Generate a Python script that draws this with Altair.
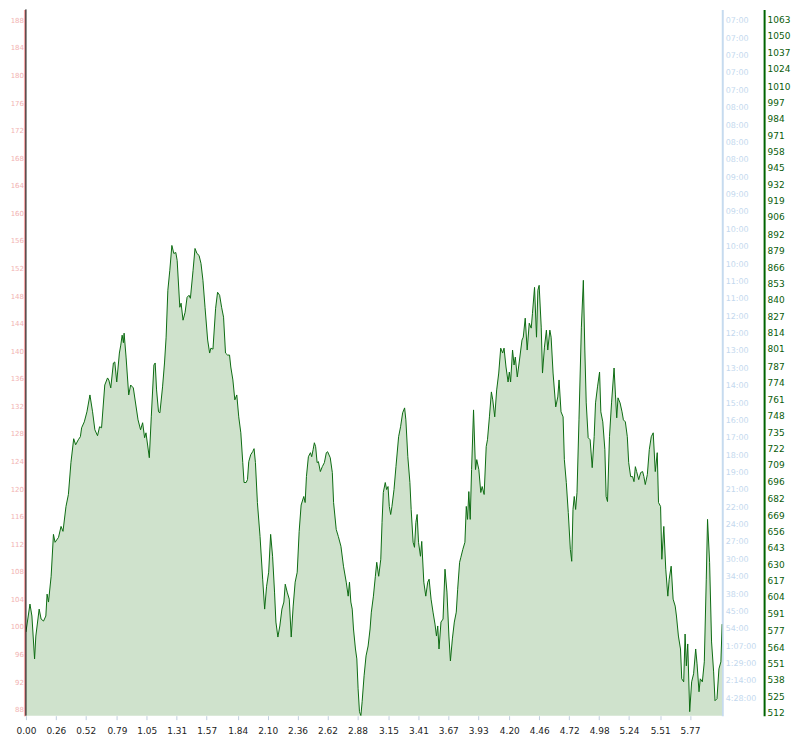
import altair as alt
import pandas as pd

# ---- data ----
distance_km = [
    0.000, 0.035, 0.052, 0.075, 0.086, 0.115, 0.132, 0.153, 0.173, 0.184, 0.196, 0.219, 0.239, 0.253,
    0.283, 0.305, 0.322, 0.348, 0.369, 0.391, 0.415, 0.432, 0.455, 0.473, 0.484, 0.507, 0.530, 0.556,
    0.579, 0.599, 0.622, 0.640, 0.657, 0.685, 0.709, 0.720, 0.737, 0.760, 0.772, 0.789, 0.812, 0.824,
    0.836, 0.847, 0.853, 0.870, 0.893, 0.910, 0.933, 0.974, 0.996, 1.014, 1.031, 1.043, 1.072, 1.089,
    1.112, 1.123, 1.135, 1.152, 1.164, 1.187, 1.204, 1.218, 1.233, 1.250, 1.268, 1.285, 1.302, 1.314,
    1.337, 1.348, 1.365, 1.383, 1.400, 1.417, 1.429, 1.452, 1.469, 1.486, 1.504, 1.521, 1.538, 1.556,
    1.579, 1.596, 1.607, 1.625, 1.648, 1.665, 1.683, 1.700, 1.717, 1.734, 1.752, 1.769, 1.780, 1.798,
    1.815, 1.832, 1.849, 1.867, 1.884, 1.895, 1.913, 1.925, 1.936, 1.953, 1.970, 1.982, 1.994, 2.011,
    2.034, 2.057, 2.074, 2.091, 2.109, 2.126, 2.143, 2.160, 2.172, 2.189, 2.206, 2.224, 2.241, 2.253,
    2.270, 2.288, 2.305, 2.322, 2.339, 2.357, 2.374, 2.391, 2.414, 2.426, 2.437, 2.454, 2.472, 2.483,
    2.495, 2.506, 2.517, 2.530, 2.541, 2.558, 2.575, 2.593, 2.610, 2.621, 2.644, 2.662, 2.673, 2.696,
    2.714, 2.737, 2.759, 2.783, 2.800, 2.811, 2.823, 2.835, 2.846, 2.863, 2.875, 2.886, 2.898, 2.910,
    2.921, 2.938, 2.955, 2.973, 2.990, 3.001, 3.019, 3.036, 3.048, 3.065, 3.083, 3.094, 3.105, 3.122,
    3.134, 3.146, 3.157, 3.169, 3.180, 3.198, 3.215, 3.238, 3.255, 3.273, 3.290, 3.301, 3.318, 3.336,
    3.347, 3.364, 3.376, 3.388, 3.399, 3.411, 3.428, 3.439, 3.457, 3.474, 3.491, 3.503, 3.520, 3.537,
    3.554, 3.567, 3.578, 3.589, 3.606, 3.624, 3.641, 3.658, 3.675, 3.688, 3.705, 3.722, 3.739, 3.751,
    3.768, 3.779, 3.796, 3.814, 3.826, 3.837, 3.848, 3.860, 3.872, 3.889, 3.906, 3.917, 3.935, 3.952,
    3.964, 3.981, 3.999, 4.010, 4.027, 4.044, 4.056, 4.073, 4.090, 4.108, 4.125, 4.142, 4.154, 4.171,
    4.189, 4.200, 4.211, 4.228, 4.241, 4.252, 4.269, 4.286, 4.310, 4.321, 4.338, 4.355, 4.373, 4.390,
    4.401, 4.419, 4.436, 4.448, 4.459, 4.477, 4.488, 4.505, 4.522, 4.534, 4.552, 4.563, 4.580, 4.603,
    4.621, 4.632, 4.649, 4.667, 4.678, 4.695, 4.712, 4.730, 4.742, 4.753, 4.764, 4.776, 4.788, 4.805,
    4.826, 4.843, 4.856, 4.868, 4.885, 4.902, 4.920, 4.937, 4.949, 4.966, 4.984, 4.995, 5.012, 5.030,
    5.041, 5.053, 5.070, 5.088, 5.110, 5.122, 5.133, 5.144, 5.162, 5.179, 5.191, 5.208, 5.225, 5.237,
    5.254, 5.271, 5.283, 5.295, 5.306, 5.324, 5.341, 5.358, 5.369, 5.381, 5.399, 5.416, 5.433, 5.450,
    5.468, 5.485, 5.496, 5.514, 5.525, 5.542, 5.559, 5.577, 5.589, 5.606, 5.623, 5.641, 5.652, 5.669,
    5.687, 5.698, 5.715, 5.727, 5.738, 5.750, 5.767, 5.784, 5.801, 5.819, 5.831, 5.848, 5.859, 5.877,
    5.894, 5.911, 5.922, 5.940, 5.957, 5.975, 5.987, 6.004, 6.021, 6.038, 6.049,
]
elevation_m = [
    576.1, 598.3, 588.8, 554.7, 572.9, 594.3, 586.4, 584.8, 588.8, 606.2, 599.9, 620.4, 653.7, 647.4,
    651.3, 660.0, 656.1, 675.9, 685.4, 710.7, 729.7, 724.9, 728.9, 731.3, 738.4, 743.1, 751.1, 764.5,
    751.1, 736.8, 732.1, 739.2, 738.4, 772.4, 778.0, 776.4, 770.1, 789.9, 790.7, 774.8, 797.8, 804.1,
    812.0, 806.0, 813.6, 794.6, 764.5, 772.4, 770.1, 744.7, 736.8, 742.4, 730.5, 734.4, 714.6, 747.1,
    788.3, 789.9, 768.5, 751.1, 750.3, 770.9, 789.9, 810.4, 847.7, 863.5, 883.3, 876.9, 877.7, 871.4,
    834.2, 837.4, 823.9, 830.2, 842.1, 843.7, 841.3, 863.5, 880.9, 876.9, 875.4, 869.0, 855.6, 834.2,
    808.1, 797.8, 801.7, 800.9, 833.4, 846.1, 843.7, 834.2, 826.3, 797.8, 796.2, 796.2, 786.7, 776.4,
    760.6, 764.5, 747.1, 734.4, 710.7, 694.9, 694.9, 697.2, 711.5, 717.0, 719.4, 721.8, 710.7, 679.0,
    652.1, 618.1, 594.3, 612.5, 623.6, 653.7, 636.3, 607.8, 584.0, 572.1, 580.9, 594.3, 599.9, 614.1,
    607.8, 602.2, 572.1, 596.7, 615.7, 623.6, 656.1, 677.0, 683.8, 679.0, 699.6, 715.4, 718.6, 715.4,
    721.0, 726.5, 723.4, 710.7, 711.5, 703.6, 707.5, 710.7, 718.6, 719.4, 714.6, 702.8, 679.0, 657.6,
    652.1, 644.2, 628.4, 615.7, 604.6, 615.7, 599.9, 594.3, 578.5, 562.6, 554.7, 531.0, 512.8, 509.6,
    520.7, 541.3, 557.1, 565.0, 578.5, 591.9, 604.6, 620.4, 631.5, 620.4, 633.9, 663.2, 687.0, 694.9,
    689.3, 691.7, 675.9, 669.5, 675.9, 689.3, 707.5, 731.3, 739.2, 750.3, 754.2, 744.7, 715.4, 694.9,
    673.5, 647.4, 643.4, 663.2, 669.5, 647.4, 636.3, 648.1, 615.7, 604.6, 615.7, 618.1, 602.2, 591.9,
    582.4, 572.9, 580.9, 562.6, 584.0, 586.4, 626.0, 607.8, 572.9, 553.1, 570.6, 584.0, 591.9, 610.1,
    631.5, 635.5, 641.8, 647.4, 675.9, 665.6, 687.7, 665.6, 705.2, 752.6, 705.2, 713.1, 705.2, 687.0,
    691.7, 685.4, 723.4, 728.9, 747.1, 766.9, 760.6, 747.1, 768.5, 781.9, 801.7, 797.8, 801.7, 786.7,
    774.8, 782.7, 774.8, 800.2, 788.3, 794.6, 778.8, 790.7, 808.1, 810.4, 825.5, 800.2, 821.5, 817.6,
    829.4, 850.0, 810.4, 847.7, 851.6, 818.4, 781.9, 802.5, 816.0, 800.2, 816.0, 810.4, 781.9, 755.0,
    762.9, 776.4, 751.1, 747.1, 713.1, 694.9, 671.1, 641.8, 632.3, 673.5, 683.8, 673.5, 687.0, 744.7,
    818.4, 855.6, 800.2, 758.2, 730.5, 728.9, 706.7, 731.3, 758.2, 770.9, 782.7, 751.1, 743.1, 721.0,
    683.8, 679.8, 731.3, 758.2, 785.9, 764.5, 746.3, 762.2, 758.2, 751.1, 744.7, 743.1, 731.3, 710.7,
    699.6, 699.6, 695.6, 707.5, 703.6, 697.2, 702.8, 703.6, 699.6, 693.3, 701.2, 721.0, 731.3, 734.4,
    703.6, 718.6, 679.0, 675.9, 633.9, 660.0, 626.0, 604.6, 618.1, 628.4, 602.2, 596.7, 588.8, 572.9,
    562.6, 538.9, 536.5, 574.5, 549.2, 566.6, 512.8, 536.5, 542.9, 562.6, 550.8, 528.6, 538.9, 536.5,
    552.4, 618.1, 665.6, 631.5, 568.2, 544.4, 521.5, 523.1, 546.8, 552.4, 582.4,
]

x_ticks = [0.00, 0.26, 0.52, 0.79, 1.05, 1.31, 1.57, 1.84, 2.10, 2.36, 2.62, 2.88, 3.15, 3.41,
           3.67, 3.93, 4.20, 4.46, 4.72, 4.98, 5.24, 5.51, 5.77]
hr_ticks = [88, 92, 96, 100, 104, 108, 112, 116, 120, 124, 128, 132, 136, 140, 144, 148, 152,
            156, 160, 164, 168, 172, 176, 180, 184, 188]
elev_ticks = [512, 525, 538, 551, 564, 577, 591, 604, 617, 630, 643, 656, 669, 682, 696, 709,
              722, 735, 748, 761, 774, 787, 801, 814, 827, 840, 853, 866, 879, 892, 906, 919,
              932, 945, 958, 971, 984, 997, 1010, 1024, 1037, 1050, 1063]
pace_labels = ['4:28:00', '2:14:00', '1:29:00', '1:07:00', '54:00', '45:00', '38:00', '34:00',
               '30:00', '27:00', '24:00', '22:00', '21:00', '19:00', '18:00', '17:00', '16:00',
               '15:00', '14:00', '13:00', '13:00', '12:00', '12:00', '11:00', '11:00', '10:00',
               '10:00', '10:00', '09:00', '09:00', '09:00', '08:00', '08:00', '08:00', '08:00',
               '07:00', '07:00', '07:00', '07:00', '07:00']

FONT = "Verdana, DejaVu Sans"

elev_df = pd.DataFrame({"d": distance_km, "e": elevation_m})
hr_df = pd.DataFrame({"hr": hr_ticks})
pace_df = pd.DataFrame({"p": list(range(1, len(pace_labels) + 1))})

x_axis = alt.Axis(values=x_ticks, format=".2f", title=None, grid=False, domain=False,
                  tickColor="#c0cede", tickSize=4, labelColor="#222222", labelFontSize=9,
                  labelFont=FONT, labelPadding=7, labelFlush=False, labelOverlap=False,
                  labelSeparation=0)
x_scale = alt.Scale(domain=[0, 6.05], nice=False, zero=False)

area = alt.Chart(elev_df).mark_area(
    color="#cfe2cc", opacity=1, clip=True,
    line={"color": "#0d6b12", "strokeWidth": 1},
).encode(
    x=alt.X("d:Q", scale=x_scale, axis=x_axis),
    y=alt.Y("e:Q", scale=alt.Scale(domain=[509.6, 1070.9], nice=False, zero=False),
            axis=alt.Axis(orient="right", offset=42, values=elev_ticks, format="d", title=None,
                          grid=False, ticks=False, domainColor="#006400", domainWidth=2,
                          labelColor="#0a5c0a", labelFontSize=9, labelFont=FONT,
                          labelPadding=3, labelFlush=False, labelOverlap=False)),
)

hr_layer = alt.Chart(hr_df).mark_tick(opacity=0).encode(
    y=alt.Y("hr:Q", scale=alt.Scale(domain=[87.13, 189.59], nice=False, zero=False),
            axis=alt.Axis(orient="left", offset=1.5, values=hr_ticks, format="d", title=None,
                          grid=False, ticks=False, domainColor="#f2a7a7", domainWidth=2,
                          labelColor="#f2b3b3", labelFontSize=7, labelFont=FONT,
                          labelPadding=1, labelFlush=False, labelOverlap=False)),
)

pace_expr = "[" + ",".join("'" + s + "'" for s in pace_labels) + "][datum.value - 1]"
pace_layer = alt.Chart(pace_df).mark_tick(opacity=0).encode(
    y=alt.Y("p:Q", scale=alt.Scale(domain=[0, 40.66], nice=False, zero=False),
            axis=alt.Axis(orient="right", offset=0, values=list(range(1, len(pace_labels) + 1)),
                          labelExpr=pace_expr, title=None, grid=False, ticks=False,
                          domainColor="#c6dbef", domainWidth=2,
                          labelColor="#c3d8ee", labelFontSize=8, labelFont=FONT,
                          labelPadding=3, labelFlush=False, labelOverlap=False)),
)

left_rule = alt.Chart(pd.DataFrame({"d": [0.0]})).mark_rule(color="#000000", strokeWidth=1).encode(
    x=alt.X("d:Q", scale=x_scale, axis=x_axis)
)

chart = alt.layer(area, hr_layer, pace_layer, left_rule).resolve_scale(
    y="independent"
).properties(
    width=699,
    height=709,
    autosize=alt.AutoSizeParams(type="none"),
    padding={"left": 18, "top": 0, "right": 70, "bottom": 20},
).configure_view(stroke=None)

chart.save("out.html", embed_options={"renderer": "svg", "actions": False})
